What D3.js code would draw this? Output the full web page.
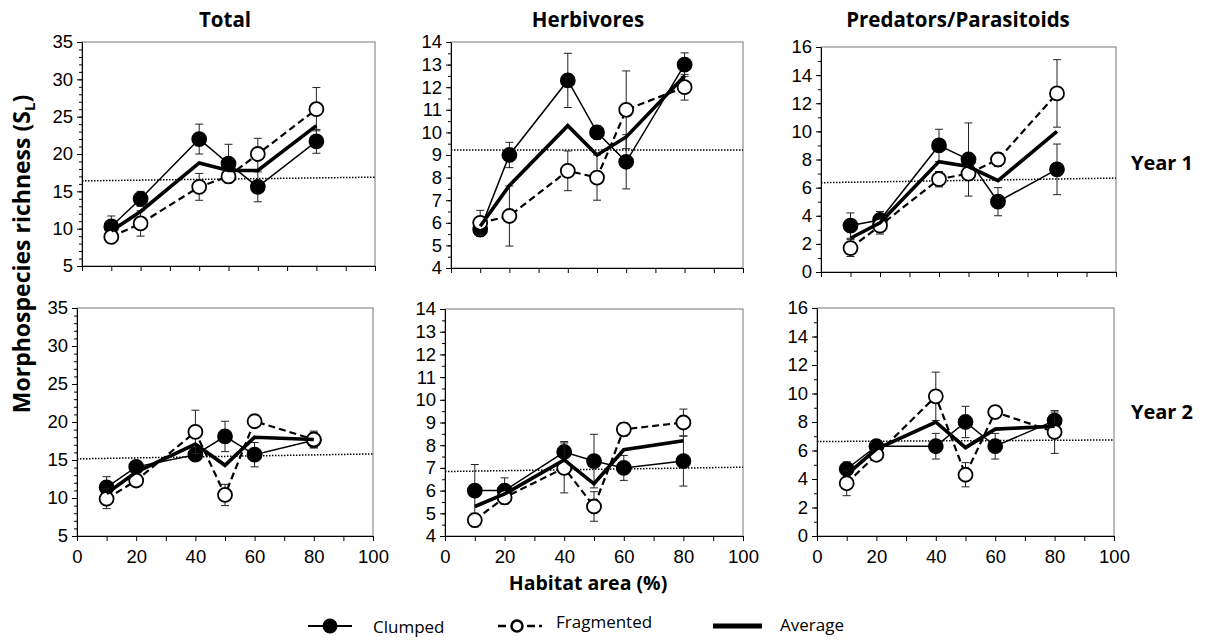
<!DOCTYPE html>
<html>
<head>
<meta charset="utf-8">
<script src="https://cdn.jsdelivr.net/npm/d3@7"></script>
<style>
  body { margin: 0; background: #fff; }
  svg { font-family: "Open Sans", sans-serif; }
</style>
</head>
<body>
<svg id="chart" width="1205" height="640"></svg>
<script>
// habitat area levels (%)
const habitatArea = [10, 20, 40, 50, 60, 80];

// Year 1
const totalY1Clumped = [10.3, 14.0, 22.0, 18.7, 15.6, 21.7];
const totalY1ClumpedSE = [1.4, 1.0, 2.0, 2.6, 2.0, 1.6];
const totalY1Frag = [8.9, 10.7, 15.6, 17.0, 20.0, 26.0];
const totalY1FragSE = [0.5, 1.7, 1.8, 0.6, 2.1, 2.9];
const totalY1Avg = [9.7, 12.3, 18.8, 17.8, 17.8, 23.8];
const totalY1Dotted = [16.4, 16.9];

const herbY1Clumped = [5.7, 9.0, 12.3, 10.0, 8.7, 13.0];
const herbY1ClumpedSE = [0.3, 0.56, 1.2, 0.3, 1.2, 0.52];
const herbY1Frag = [6.0, 6.3, 8.3, 8.0, 11.0, 12.0];
const herbY1FragSE = [0.55, 1.33, 0.88, 1.0, 1.72, 0.57];
const herbY1Avg = [5.85, 7.65, 10.3, 9.0, 9.8, 12.5];
const herbY1Dotted = [9.22, 9.22];

const predY1Clumped = [3.3, 3.7, 9.0, 8.0, 5.0, 7.3];
const predY1ClumpedSE = [0.9, 0.6, 1.15, 2.6, 1.0, 1.8];
const predY1Frag = [1.7, 3.3, 6.6, 7.0, 8.0, 12.7];
const predY1FragSE = [0.6, 0.6, 0.55, 0.3, 0.5, 2.4];
const predY1Avg = [2.4, 3.5, 7.85, 7.5, 6.5, 10.0];
const predY1Dotted = [6.35, 6.68];

// Year 2
const totalY2Clumped = [11.4, 14.1, 15.7, 18.1, 15.7, 17.6];
const totalY2ClumpedSE = [1.4, 0.5, 0.5, 2.0, 1.6, 1.0];
const totalY2Frag = [9.9, 12.3, 18.7, 10.4, 20.1, 17.7];
const totalY2FragSE = [1.3, 0.5, 2.85, 1.4, 0.8, 1.1];
const totalY2Avg = [10.6, 13.4, 17.1, 14.3, 18.0, 17.7];
const totalY2Dotted = [15.15, 15.8];

const herbY2Clumped = [6.0, 6.0, 7.7, 7.3, 7.0, 7.3];
const herbY2ClumpedSE = [1.15, 0.56, 0.46, 1.18, 0.55, 1.1];
const herbY2Frag = [4.7, 5.7, 7.0, 5.3, 8.7, 9.0];
const herbY2FragSE = [0.3, 0.3, 1.1, 0.65, 0.3, 0.59];
const herbY2Avg = [5.3, 5.85, 7.35, 6.3, 7.8, 8.2];
const herbY2Dotted = [6.84, 7.03];

const predY2Clumped = [4.7, 6.3, 6.3, 8.0, 6.3, 8.1];
const predY2ClumpedSE = [0.5, 0.4, 0.9, 1.1, 0.9, 0.6];
const predY2Frag = [3.7, 5.7, 9.8, 4.3, 8.7, 7.3];
const predY2FragSE = [0.87, 0.4, 1.7, 0.85, 0.4, 1.5];
const predY2Avg = [4.3, 6.1, 8.0, 6.2, 7.5, 7.7];
const predY2Dotted = [6.63, 6.74];

const columnTitles = ["Total", "Herbivores", "Predators/Parasitoids"];
const rowLabels = ["Year 1", "Year 2"];
const legendLabels = ["Clumped", "Fragmented", "Average"];

const panels = [
  { box: [82, 375, 42, 266], y: [5, 35], major: 5, minor: 1, title: 0, c: totalY1Clumped, cse: totalY1ClumpedSE, f: totalY1Frag, fse: totalY1FragSE, a: totalY1Avg, d: totalY1Dotted },
  { box: [451, 743, 42, 268], y: [4, 14], major: 1, minor: 0.5, title: 1, c: herbY1Clumped, cse: herbY1ClumpedSE, f: herbY1Frag, fse: herbY1FragSE, a: herbY1Avg, d: herbY1Dotted },
  { box: [821, 1116, 47, 272], y: [0, 16], major: 2, minor: 1, title: 2, c: predY1Clumped, cse: predY1ClumpedSE, f: predY1Frag, fse: predY1FragSE, a: predY1Avg, d: predY1Dotted },
  { box: [77, 373, 308, 536], y: [5, 35], major: 5, minor: 1, xlab: true, c: totalY2Clumped, cse: totalY2ClumpedSE, f: totalY2Frag, fse: totalY2FragSE, a: totalY2Avg, d: totalY2Dotted },
  { box: [445, 743, 309, 536], y: [4, 14], major: 1, minor: 0.5, xlab: true, c: herbY2Clumped, cse: herbY2ClumpedSE, f: herbY2Frag, fse: herbY2FragSE, a: herbY2Avg, d: herbY2Dotted },
  { box: [817, 1114, 308, 536], y: [0, 16], major: 2, minor: 1, xlab: true, c: predY2Clumped, cse: predY2ClumpedSE, f: predY2Frag, fse: predY2FragSE, a: predY2Avg, d: predY2Dotted }
];

const titleX = [225, 588, 958];

const svg = d3.select("#chart");

function drawPanel(p) {
  const [x0, x1, y0, y1] = p.box;
  const x = d3.scaleLinear().domain([0, 100]).range([x0, x1]);
  const y = d3.scaleLinear().domain(p.y).range([y1, y0]);
  const g = svg.append("g");

  // box
  g.append("rect")
    .attr("x", x0).attr("y", y0)
    .attr("width", x1 - x0).attr("height", y1 - y0)
    .attr("fill", "none").attr("stroke", "#777").attr("stroke-width", 1);

  // minor y ticks
  const minorTicks = d3.range(p.y[0], p.y[1] + 1e-9, p.minor);
  g.append("g")
    .attr("transform", `translate(${x0},0)`)
    .call(d3.axisLeft(y).tickValues(minorTicks).tickSize(3).tickFormat(""))
    .call(a => a.select(".domain").remove());

  // major y ticks
  const majorTicks = d3.range(p.y[0], p.y[1] + 1e-9, p.major);
  g.append("g")
    .attr("transform", `translate(${x0},0)`)
    .call(d3.axisLeft(y).tickValues(majorTicks).tickSize(5).tickSizeOuter(0).tickPadding(4))
    .call(a => a.selectAll("text").attr("font-size", 18.5).attr("fill", "#000"));

  // x axis
  const xa = g.append("g")
    .attr("transform", `translate(0,${y1})`)
    .call(d3.axisBottom(x).tickValues(d3.range(0, 101, 10)).tickSize(5).tickSizeOuter(0).tickPadding(9)
      .tickFormat(d => (p.xlab && d % 20 === 0) ? d : ""));
  xa.selectAll("text").attr("font-size", 18.5).attr("fill", "#000");

  g.selectAll(".domain, .tick line").attr("stroke", "#000");

  // dotted reference line
  g.append("line")
    .attr("x1", x(0)).attr("x2", x(100))
    .attr("y1", y(p.d[0])).attr("y2", y(p.d[1]))
    .attr("stroke", "#000").attr("stroke-width", 1.5)
    .attr("stroke-dasharray", "1.5,1.5");

  const series = [
    { v: p.c, se: p.cse, fill: "#000", dash: null, width: 1.5 },
    { v: p.f, se: p.fse, fill: "#fff", dash: "7,4", width: 2.2 }
  ];

  series.forEach(s => {
    const pts = habitatArea.map((h, i) => ({ h, v: s.v[i], se: s.se[i] }));
    // error bars
    const eb = g.append("g").attr("stroke", "#222").attr("stroke-width", 1);
    pts.forEach(d => {
      eb.append("line").attr("x1", x(d.h)).attr("x2", x(d.h))
        .attr("y1", y(d.v - d.se)).attr("y2", y(d.v + d.se));
      [d.v - d.se, d.v + d.se].forEach(e => {
        eb.append("line").attr("x1", x(d.h) - 4).attr("x2", x(d.h) + 4)
          .attr("y1", y(e)).attr("y2", y(e));
      });
    });
    // line
    g.append("path")
      .datum(pts)
      .attr("d", d3.line().x(d => x(d.h)).y(d => y(d.v)))
      .attr("fill", "none").attr("stroke", "#000")
      .attr("stroke-width", s.width)
      .attr("stroke-dasharray", s.dash);
    // markers
    g.selectAll(null).data(pts).join("circle")
      .attr("cx", d => x(d.h)).attr("cy", d => y(d.v)).attr("r", 7)
      .attr("fill", s.fill).attr("stroke", "#000").attr("stroke-width", 1.8);
  });

  // average
  g.append("path")
    .datum(habitatArea.map((h, i) => ({ h, v: p.a[i] })))
    .attr("d", d3.line().x(d => x(d.h)).y(d => y(d.v)))
    .attr("fill", "none").attr("stroke", "#000").attr("stroke-width", 3.6);

  if (p.title !== undefined) {
    svg.append("text")
      .attr("x", titleX[p.title]).attr("y", 27)
      .attr("text-anchor", "middle")
      .attr("font-size", 20.5).attr("font-weight", "bold")
      .text(columnTitles[p.title]);
  }
}

panels.forEach(drawPanel);

// row labels
[163, 412].forEach((cy, i) => {
  svg.append("text")
    .attr("x", 1162).attr("y", cy + 7)
    .attr("text-anchor", "middle")
    .attr("font-size", 20).attr("font-weight", "bold")
    .text(rowLabels[i]);
});

// axis titles
const yTitle = svg.append("text")
  .attr("transform", "translate(30,254) rotate(-90)")
  .attr("text-anchor", "middle")
  .attr("font-size", 23).attr("font-weight", "bold");
yTitle.append("tspan").text("Morphospecies richness (S");
yTitle.append("tspan").attr("font-size", 15).attr("dy", 5).text("L");
yTitle.append("tspan").attr("dy", -5).text(")");

svg.append("text")
  .attr("x", 588).attr("y", 590)
  .attr("text-anchor", "middle")
  .attr("font-size", 19.5).attr("font-weight", "bold")
  .text("Habitat area (%)");

// legend
const lg = svg.append("g").attr("transform", "translate(0,626)");
lg.append("line").attr("x1", 308).attr("x2", 352).attr("stroke", "#000").attr("stroke-width", 2);
lg.append("circle").attr("cx", 330).attr("r", 7.5).attr("fill", "#000");
lg.append("text").attr("x", 373).attr("y", 7).attr("font-size", 17).text(legendLabels[0]);

lg.append("line").attr("x1", 498).attr("x2", 506).attr("stroke", "#000").attr("stroke-width", 2.5);
lg.append("line").attr("x1", 527).attr("x2", 535).attr("stroke", "#000").attr("stroke-width", 2.5);
lg.append("line").attr("x1", 539).attr("x2", 542).attr("stroke", "#000").attr("stroke-width", 2.5);
lg.append("circle").attr("cx", 517).attr("r", 5.5).attr("fill", "#fff").attr("stroke", "#000").attr("stroke-width", 2.5);
lg.append("text").attr("x", 556).attr("y", 2).attr("font-size", 17).text(legendLabels[1]);

lg.append("line").attr("x1", 713).attr("x2", 762).attr("stroke", "#000").attr("stroke-width", 5);
lg.append("text").attr("x", 780).attr("y", 5).attr("font-size", 17).text(legendLabels[2]);
</script>
</body>
</html>
